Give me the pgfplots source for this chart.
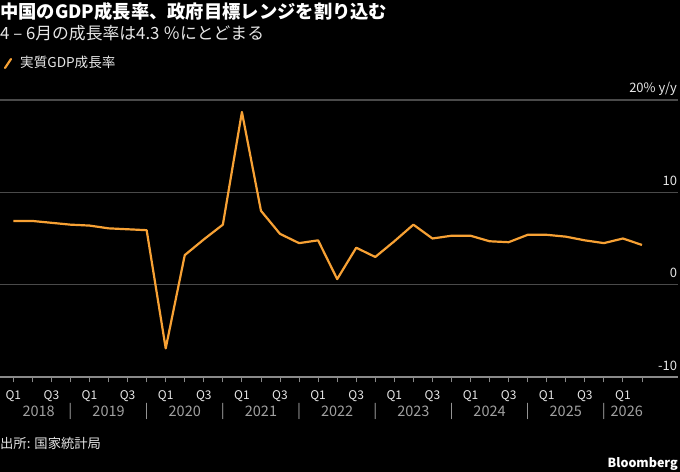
\documentclass[border=0pt]{standalone}
\usepackage{fontspec}
\setmainfont{Noto Sans CJK JP}
\usepackage{pgfplots}
\usepackage{pgfplotstable}
\pgfplotsset{compat=1.18}
\definecolor{lineor}{HTML}{F7A134}
\definecolor{gridc}{HTML}{4A4A4A}
\definecolor{zeroc}{HTML}{C8C8C8}
\definecolor{txtl}{HTML}{E6E6E6}
\definecolor{txtg}{HTML}{A0A0A0}
\definecolor{tickc}{HTML}{8A8A8A}

\pgfplotstableread{
i v
0 6.9
1 6.9
2 6.7
3 6.5
4 6.4
5 6.1
6 6.0
7 5.9
8 -6.9
9 3.2
10 4.9
11 6.5
12 18.7
13 8.0
14 5.5
15 4.5
16 4.8
17 0.6
18 4.0
19 3.0
20 4.7
21 6.5
22 5.0
23 5.3
24 5.3
25 4.7
26 4.6
27 5.4
28 5.4
29 5.2
30 4.8
31 4.5
32 5.0
33 4.3
}\gdp

\begin{document}
\begin{tikzpicture}
\fill[black] (0bp,0bp) rectangle (680bp,472bp);
\useasboundingbox (0bp,0bp) rectangle (680bp,472bp);
\node[anchor=base west, inner sep=0, text=white, font=\fontsize{18.3bp}{21bp}\selectfont\bfseries] at (0bp,453.5bp) {中国のGDP成長率、政府目標レンジを割り込む};
\node[anchor=base west, inner sep=0, text=txtl, font=\fontsize{16.8bp}{19bp}\selectfont] at (0bp,432bp) {4 – 6月の成長率は4.3 ％にとどまる};
\draw[lineor, line width=2.2bp, line cap=round] (5bp,404bp) -- (11bp,413bp);
\node[anchor=base west, inner sep=0, text=txtl, font=\fontsize{13.6bp}{16bp}\selectfont] at (20bp,404.5bp) {実質GDP成長率};
\node[anchor=base west, inner sep=0, text=txtl, font=\fontsize{13.3bp}{16bp}\selectfont] at (0bp,24bp) {出所: 国家統計局};
\node[anchor=base east, inner sep=0, text=white, font=\fontsize{12.5bp}{15bp}\selectfont\bfseries] at (678bp,5bp) {Bloomberg};
\begin{axis}[
  at={(0bp,95bp)}, anchor=south west, scale only axis,
  width=678bp, height=277bp,
  xmin=-0.698, xmax=34.89, ymin=-10, ymax=20,
  axis line style={draw=none},
  ytick={-10,10,20}, yticklabels={-10,10,20\% y/y},
  extra y ticks={0}, extra y tick labels={0},
  extra y tick style={grid style={zeroc, line width=1.2bp}},
  ymajorgrids, major grid style={gridc, line width=1.2bp},
  ytick style={draw=none},
  yticklabel pos=right,
  yticklabel style={anchor=base east, inner sep=0, xshift=-6.3bp, yshift=7bp, text=txtl, font=\fontsize{13bp}{15bp}\selectfont},
  xtick={0,...,33},
  xticklabels={Q1,,Q3,,Q1,,Q3,,Q1,,Q3,,Q1,,Q3,,Q1,,Q3,,Q1,,Q3,,Q1,,Q3,,Q1,,Q3,,Q1,},
  xtick pos=lower, tick align=outside,
  x tick style={tickc, line width=0.9bp}, major tick length=5.5bp,
  xticklabel style={anchor=center, inner sep=0, yshift=-13.5bp, text=txtl, font=\fontsize{12bp}{15bp}\selectfont},
  extra x ticks={1.33,3,5,7,9,11,13,15,17,19,21,23,25,27,29,31,32.2},
  extra x tick labels={2018,|,2019,|,2020,|,2021,|,2022,|,2023,|,2024,|,2025,|,2026},
  extra x tick style={major tick length=0pt, tick style={draw=none},
    xticklabel style={yshift=-20.5bp, text=txtg, font=\fontsize{14.5bp}{16bp}\selectfont}},
  /pgf/number format/assume math mode=true,
  clip=false,
]
\draw[tickc, line width=1.2bp] (axis cs:-0.698,-10) -- (axis cs:34.89,-10);
\addplot[lineor, line width=2.2bp, line join=round, mark=none] table[x=i, y=v] {\gdp};
\end{axis}
\end{tikzpicture}
\end{document}
